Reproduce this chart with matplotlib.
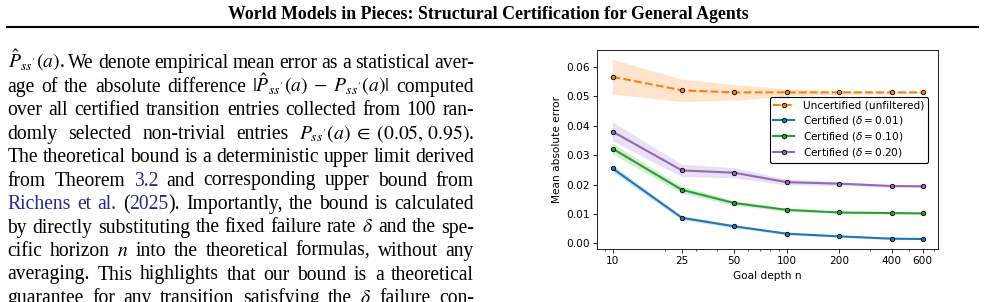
#!/usr/bin/env python3
# -*- coding: utf-8 -*-
"""
Page snippet: left text column plus the goal-depth error plot.
Writes out.png (985 x 302 px).
"""

import numpy as np
import matplotlib
matplotlib.use("Agg")
import matplotlib.pyplot as plt
from matplotlib.lines import Line2D
from matplotlib.ticker import NullFormatter


# ==========================================================
# Data
# ==========================================================

DEPTHS = [10, 25, 50, 100, 200, 400, 600]
DEPTH_LABELS = ["10", "25", "50", "100", "200", "400", "600"]

UNCERT_MEAN = [0.0566, 0.0520, 0.0513, 0.0513, 0.0513, 0.0513, 0.0513]
UNCERT_STD = [0.0059, 0.0038, 0.0027, 0.0012, 0.0006, 0.0004, 0.0003]

CERT_01_MEAN = [0.0255, 0.0087, 0.0058, 0.0033, 0.0024, 0.0016, 0.0015]
CERT_01_STD = [0.0012, 0.0007, 0.0005, 0.0004, 0.0003, 0.0003, 0.0002]

CERT_10_MEAN = [0.0322, 0.0182, 0.0137, 0.0114, 0.0105, 0.0103, 0.0102]
CERT_10_STD = [0.0018, 0.0012, 0.0008, 0.0005, 0.0003, 0.0003, 0.0002]

CERT_20_MEAN = [0.0380, 0.0248, 0.0240, 0.0208, 0.0203, 0.0195, 0.0194]
CERT_20_STD = [0.0032, 0.0021, 0.0017, 0.0010, 0.0006, 0.0004, 0.0003]

SERIES_LABELS = [
    "Uncertified (unfiltered)",
    r"Certified ($\delta = 0.01$)",
    r"Certified ($\delta = 0.10$)",
    r"Certified ($\delta = 0.20$)",
]

PAGE_TITLE = "World Models in Pieces: Structural Certification for General Agents"

# '§' toggles the link colour on and off
BODY_LINES = [
    r"$\hat{P}_{ss'}(a)$. We denote empirical mean error as a statistical aver-",
    r"age of the absolute difference $|\hat{P}_{ss'}(a)\;-\;P_{ss'}(a)|$ computed",
    r"over all certified transition entries collected from 100 ran-",
    r"domly selected non-trivial entries $P_{ss'}(a)\;\in\;(0.05,\,0.95)$.",
    r"The theoretical bound is a deterministic upper limit derived",
    r"from Theorem §3.2§ and corresponding upper bound from",
    r"§Richens et al.§ (§2025§). Importantly, the bound is calculated",
    r"by directly substituting the fixed failure rate $\delta$ and the spe-",
    r"cific horizon $n$ into the theoretical formulas, without any",
    r"averaging. This highlights that our bound is a theoretical",
    r"guarantee for any transition satisfying the $\delta$ failure con-",
]


# ==========================================================
# Configuration
# ==========================================================

W_PX, H_PX = 985, 302
BODY_FONT = "Liberation Serif"
LINK_BLUE = "#232b8f"

COLORS = ["#ff7f0e", "#1f77b4", "#2ca02c", "#9467bd"]
SCALE = 0.76

plt.rcParams.update({
    "font.size": 10 * SCALE,
    "axes.linewidth": 0.8 * SCALE,
    "xtick.major.size": 3.5 * SCALE,
    "ytick.major.size": 3.5 * SCALE,
    "xtick.minor.size": 2.0 * SCALE,
    "xtick.major.width": 0.8 * SCALE,
    "ytick.major.width": 0.8 * SCALE,
    "xtick.minor.width": 0.6 * SCALE,
    "xtick.major.pad": 3.5 * SCALE,
    "ytick.major.pad": 3.5 * SCALE,
    "axes.labelpad": 4.0 * SCALE,
})


# ==========================================================
# Helper functions
# ==========================================================

def split_tokens(line: str) -> list[str]:
    """Split on spaces, but never inside $...$."""
    tokens, cur, in_math = [], "", False
    for ch in line:
        if ch == "$":
            in_math = not in_math
        if ch == " " and not in_math:
            if cur:
                tokens.append(cur)
            cur = ""
        else:
            cur += ch
    if cur:
        tokens.append(cur)
    return tokens


def parse_line(line: str) -> list[list[tuple[str, str]]]:
    words = []
    blue = False
    for token in split_tokens(line):
        pieces = []
        for i, part in enumerate(token.split("§")):
            if i > 0:
                blue = not blue
            if part:
                pieces.append((part, LINK_BLUE if blue else "black"))
        words.append(pieces)
    return words


def text_width(fig, renderer, s, size, **kw) -> float:
    t = fig.text(0, 0, s, fontsize=size, **kw)
    w = t.get_window_extent(renderer).width
    t.remove()
    return w


def draw_header(fig, renderer) -> None:
    kw = dict(family=BODY_FONT, weight="bold")
    size = 12 * 518 / text_width(fig, renderer, PAGE_TITLE, 12, **kw)
    fig.text(488.5 / W_PX, 1 - 19 / H_PX, PAGE_TITLE, fontsize=size,
             ha="center", va="baseline", **kw)
    fig.add_artist(Line2D([7 / W_PX, 978 / W_PX], [1 - 26.5 / H_PX] * 2,
                          transform=fig.transFigure, color="black", lw=1.5))


def draw_body(fig, renderer, x0=7.5, x1=474.0, y0=68.0, step=23.5) -> None:
    kw = dict(family=BODY_FONT, math_fontfamily="stix")
    parsed = [parse_line(line) for line in BODY_LINES]

    # size chosen so most lines keep roughly normal word spacing
    base = 14.0
    ratios = []
    for words in parsed:
        total = sum(text_width(fig, renderer, s, base, **kw)
                    for word in words for s, _ in word)
        natural = total + (len(words) - 1) * 0.25 * base * 100 / 72
        ratios.append((x1 - x0) / natural)
    size = base * float(np.percentile(ratios, 15))
    min_gap = 0.2 * size * 100 / 72

    for i, words in enumerate(parsed):
        widths = [[text_width(fig, renderer, s, size, **kw) for s, _ in word]
                  for word in words]
        total = sum(sum(ws) for ws in widths)
        gap = max((x1 - x0 - total) / (len(words) - 1), min_gap)
        x = x0
        y = y0 + i * step
        for word, ws in zip(words, widths):
            for (s, color), w in zip(word, ws):
                fig.text(x / W_PX, 1 - y / H_PX, s, fontsize=size, color=color,
                         va="baseline", **kw)
                x += w
            x += gap


def draw_chart(fig) -> None:
    ax = fig.add_axes([597 / W_PX, 1 - 249 / H_PX, 341 / W_PX, 199 / H_PX])

    series = [
        (UNCERT_MEAN, UNCERT_STD, "--"),
        (CERT_01_MEAN, CERT_01_STD, "-"),
        (CERT_10_MEAN, CERT_10_STD, "-"),
        (CERT_20_MEAN, CERT_20_STD, "-"),
    ]

    for (mean, std, ls), color, label in zip(series, COLORS, SERIES_LABELS):
        mean = np.array(mean)
        std = np.array(std)
        ax.fill_between(DEPTHS, mean - std, mean + std,
                        color=color, alpha=0.2, lw=0)
        ax.plot(DEPTHS, mean, ls, color=color, lw=1.5, label=label,
                marker="o", ms=3.2, mfc=color, mec="black", mew=0.6)

    ax.set_xscale("log")
    ax.set_xticks(DEPTHS)
    ax.set_xticklabels(DEPTH_LABELS)
    ax.xaxis.set_minor_formatter(NullFormatter())
    ax.set_ylim(-0.0019, 0.0657)
    ax.set_yticks([0.00, 0.01, 0.02, 0.03, 0.04, 0.05, 0.06])
    ax.set_yticklabels([f"{v:.2f}" for v in ax.get_yticks()])

    ax.set_xlabel("Goal depth n")
    ax.set_ylabel("Mean absolute error")

    leg = ax.legend(loc="upper right", bbox_to_anchor=(0.9707, 0.7638),
                    borderaxespad=0, framealpha=1, edgecolor="black",
                    labelspacing=0.3, borderpad=0.35)
    leg.get_frame().set_linewidth(0.8)


# ==========================================================
# Main
# ==========================================================

def main() -> None:
    fig = plt.figure(figsize=(W_PX / 100, H_PX / 100), dpi=100)
    renderer = fig.canvas.get_renderer()

    draw_header(fig, renderer)
    draw_body(fig, renderer)
    draw_chart(fig)

    fig.savefig("out.png", dpi=100)
    plt.close(fig)


if __name__ == "__main__":
    main()
